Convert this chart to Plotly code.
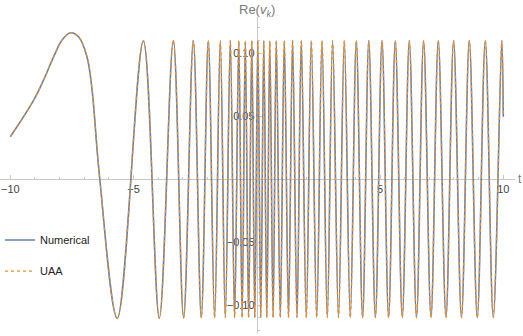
import plotly.graph_objects as go

# Values
# leading (non-oscillatory) part of the curve, up to the first zero crossing
lead_t = [-10.0, -9.05, -8.65, -8.24, -7.90, -7.566, -7.23, -6.89, -6.69, -6.38]
lead_v = [0.0336, 0.0627, 0.0786, 0.0971, 0.1103, 0.1161, 0.1129, 0.0971, 0.0720, 0.0020]

# positions / heights of the maxima after the first big hump
peak_t = [-4.604, -3.387, -2.576, -1.968, -1.481, -1.075, -0.730, -0.467,
          -0.203, 0.041, 0.284, 0.527, 0.791, 1.116, 1.452, 1.805, 2.211,
          2.645, 3.075, 3.550, 4.037, 4.544, 5.079, 5.619, 6.187, 6.767,
          7.363, 7.984, 8.621, 9.270, 9.939]
peak_v = [0.1098, 0.1099, 0.1100, 0.1098, 0.1097, 0.1098, 0.1097, 0.1096,
          0.1097, 0.1096, 0.1097, 0.1096, 0.1097, 0.1097, 0.1098, 0.1097, 0.1098,
          0.1098, 0.1097, 0.1098, 0.1098, 0.1099, 0.1098, 0.1098, 0.1099, 0.1098,
          0.1099, 0.1098, 0.1099, 0.1099, 0.1099]

# minima
trough_t = [-5.659, -3.955, -2.970, -2.252, -1.712, -1.278, -0.901, -0.596,
            -0.333, -0.081, 0.162, 0.406, 0.661, 0.953, 1.286, 1.631, 2.008,
            2.430, 2.860, 3.314, 3.793, 4.292, 4.811, 5.347, 5.903, 6.479,
            7.067, 7.675, 8.304, 8.945, 9.594]
trough_v = [-0.1106, -0.1104, -0.1102, -0.1100, -0.1100, -0.1099, -0.1099, -0.1098,
            -0.1098, -0.1098, -0.1098, -0.1098, -0.1098, -0.1098, -0.1099, -0.1098, -0.1099,
            -0.1098, -0.1099, -0.1099, -0.1098, -0.1099, -0.1099, -0.1099, -0.1099, -0.1099,
            -0.1099, -0.1099, -0.1099, -0.1099, -0.1099]

# last sample at t = 10
end_t = [10.0]
end_v = [0.0494]

x_ticks = [-10, -5, 5, 10]
x_ticktext = ["\u221210", "\u22125", "5", "10"]
y_ticks = [-0.10, -0.05, 0.05, 0.10]
y_ticktext = ["\u22120.10", "\u22120.05", "0.05", "0.10"]

X_RANGE = [-10.418, 10.475]
Y_RANGE = [-0.1222, 0.1286]

# merge everything into one ordered curve
pts = sorted(zip(lead_t + peak_t + trough_t + end_t,
                 lead_v + peak_v + trough_v + end_v))
t = [p[0] for p in pts]
v = [p[1] for p in pts]

BLUE = "#5E81B5"
ORANGE = "#F0901E"
AXIS = "#c8c8c8"
FONT = "Liberation Sans, Arial, sans-serif"

fig = go.Figure()

fig.add_trace(
    go.Scatter(
        x=t, y=v, mode="lines", name="Numerical",
        line=dict(color=BLUE, width=1.6, shape="spline", smoothing=1),
        legendgroup="a",
    )
)
fig.add_trace(
    go.Scatter(
        x=t, y=v, mode="lines", name="UAA",
        line=dict(color=ORANGE, width=1.3, dash="dot", shape="spline", smoothing=1),
        legendgroup="b",
    )
)

# axes cross at the origin (Mathematica style)
x_pos = (0 - Y_RANGE[0]) / (Y_RANGE[1] - Y_RANGE[0])
y_pos = (0 - X_RANGE[0]) / (X_RANGE[1] - X_RANGE[0])

fig.update_layout(
    width=523,
    height=336,
    margin=dict(l=0, r=8, t=17, b=3),
    paper_bgcolor="white",
    plot_bgcolor="white",
    font=dict(family=FONT, size=11, color="#444444"),
    xaxis=dict(
        range=X_RANGE,
        anchor="free",
        position=x_pos,
        showgrid=False,
        zeroline=False,
        showline=True,
        linecolor=AXIS,
        linewidth=1,
        tickmode="array",
        tickvals=x_ticks,
        ticktext=x_ticktext,
        ticks="inside",
        ticklen=4,
        tickcolor=AXIS,
        minor=dict(tickmode="linear", tick0=0, dtick=1, ticks="inside",
                   ticklen=2, tickcolor=AXIS),
        tickfont=dict(size=11, color="#444444"),
        layer="below traces",
        fixedrange=True,
    ),
    yaxis=dict(
        range=Y_RANGE,
        anchor="free",
        position=y_pos,
        showgrid=False,
        zeroline=False,
        showline=True,
        linecolor=AXIS,
        linewidth=1,
        tickmode="array",
        tickvals=y_ticks,
        ticktext=y_ticktext,
        ticks="inside",
        ticklen=4,
        tickcolor=AXIS,
        minor=dict(tickmode="linear", tick0=0, dtick=0.01, ticks="inside",
                   ticklen=2, tickcolor=AXIS),
        tickfont=dict(size=11, color="#444444"),
        layer="below traces",
        fixedrange=True,
    ),
    legend=dict(
        x=0,
        xanchor="left",
        y=0.34,
        yanchor="top",
        bgcolor="rgba(0,0,0,0)",
        font=dict(size=11, color="#222222"),
        tracegroupgap=12,
    ),
    annotations=[
        dict(text="Re(<i>v</i><sub><i>k</i></sub>)", x=0, xref="x", y=1.0,
             yref="paper", yanchor="bottom", showarrow=False, yshift=-4,
             font=dict(size=13, color="#7a7a7a")),
        dict(text="t", x=1.0, xref="paper", xanchor="left", xshift=1,
             y=0, yref="y", showarrow=False,
             font=dict(size=12, color="#7a7a7a")),
    ],
)

fig.write_html(
    "out.html",
    config={"displayModeBar": False},
    post_script="document.body.style.margin='0';",
)
